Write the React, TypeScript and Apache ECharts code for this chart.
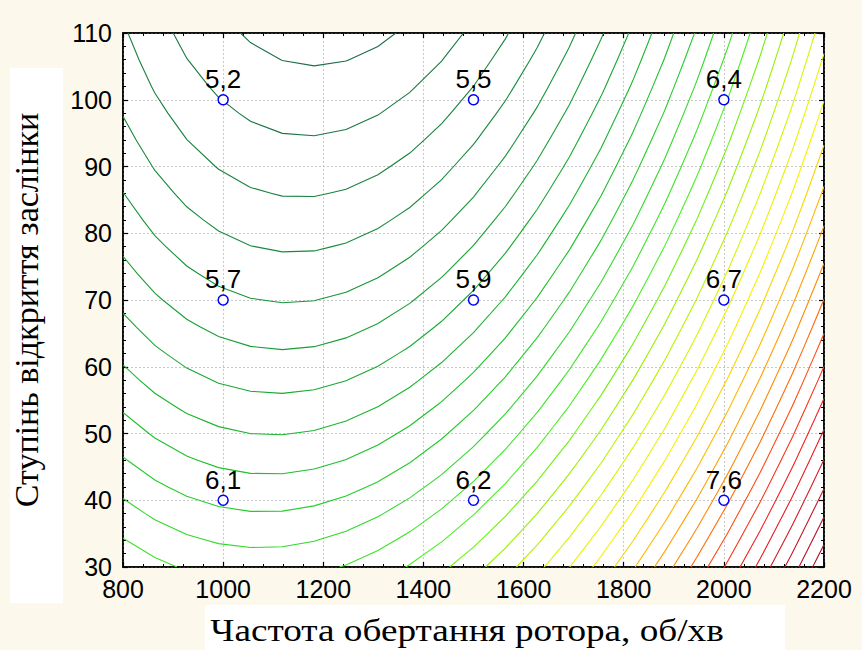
import React, { useEffect, useRef } from "react";
import * as echarts from "echarts";

// ---- data ----
const rpmLevels = [1000, 1500, 2000]; // Частота обертання ротора, об/хв
const openingLevels = [40, 70, 100]; // Ступінь відкриття заслінки
// measured response, rows follow openingLevels, columns follow rpmLevels
const responseRows = [
  [6.1, 6.2, 7.6],
  [5.7, 5.9, 6.7],
  [5.2, 5.5, 6.4],
];
const contourLevels = [
  5.2, 5.3, 5.4, 5.5, 5.6, 5.7, 5.8, 5.9, 6.0, 6.1, 6.2, 6.3, 6.4, 6.5, 6.6, 6.7,
  6.8, 6.9, 7.0, 7.1, 7.2, 7.3, 7.4, 7.5, 7.6, 7.7, 7.8, 7.9, 8.0, 8.1, 8.2, 8.3,
];
const xTicks = { min: 800, max: 2200, step: 200 };
const yTicks = { min: 30, max: 110, step: 10 };

// ---- styling ----
const colorStops: [number, string][] = [
  [5.2, "#1a6e46"],
  [5.5, "#178a3c"],
  [5.8, "#18a832"],
  [6.0, "#1cc02a"],
  [6.2, "#30d82a"],
  [6.4, "#48f020"],
  [6.6, "#98f000"],
  [6.8, "#d8f400"],
  [7.0, "#f8f000"],
  [7.2, "#ffb800"],
  [7.4, "#ff8a00"],
  [7.6, "#ff4a10"],
  [7.8, "#f42020"],
  [8.3, "#a8102a"],
];

function hexToRgb(h: string) {
  const n = parseInt(h.slice(1), 16);
  return [(n >> 16) & 255, (n >> 8) & 255, n & 255];
}
function levelColor(v: number) {
  if (v <= colorStops[0][0]) return colorStops[0][1];
  for (let i = 1; i < colorStops.length; i++) {
    if (v <= colorStops[i][0]) {
      const [a, ca] = colorStops[i - 1];
      const [b, cb] = colorStops[i];
      const t = (v - a) / (b - a);
      const A = hexToRgb(ca), B = hexToRgb(cb);
      const c = A.map((x, k) => Math.round(x + (B[k] - x) * t));
      return `rgb(${c[0]},${c[1]},${c[2]})`;
    }
  }
  return colorStops[colorStops.length - 1][1];
}

// ---- quadratic response surface fitted (least squares) to the measured points ----
const points: [number, number, number][] = [];
openingLevels.forEach((y, r) => rpmLevels.forEach((x, c) => points.push([x, y, responseRows[r][c]])));
const xc = (Math.min(...rpmLevels) + Math.max(...rpmLevels)) / 2;
const xs = (Math.max(...rpmLevels) - Math.min(...rpmLevels)) / 2;
const yc = (Math.min(...openingLevels) + Math.max(...openingLevels)) / 2;
const ys = (Math.max(...openingLevels) - Math.min(...openingLevels)) / 2;
const basis = (x: number, y: number) => {
  const u = (x - xc) / xs, v = (y - yc) / ys;
  return [1, u, v, u * u, v * v, u * v];
};
function fitSurface() {
  const n = 6;
  const M = Array.from({ length: n }, () => new Array(n + 1).fill(0));
  points.forEach(([x, y, z]) => {
    const b = basis(x, y);
    for (let i = 0; i < n; i++) {
      for (let j = 0; j < n; j++) M[i][j] += b[i] * b[j];
      M[i][n] += b[i] * z;
    }
  });
  for (let i = 0; i < n; i++) {
    let p = i;
    for (let k = i + 1; k < n; k++) if (Math.abs(M[k][i]) > Math.abs(M[p][i])) p = k;
    [M[i], M[p]] = [M[p], M[i]];
    for (let k = 0; k < n; k++) {
      if (k === i) continue;
      const f = M[k][i] / M[i][i];
      for (let j = i; j <= n; j++) M[k][j] -= f * M[i][j];
    }
  }
  return M.map((row, i) => row[n] / row[i]);
}
const coef = fitSurface();
const surface = (x: number, y: number) => basis(x, y).reduce((s, b, i) => s + b * coef[i], 0);

// ---- marching squares ----
const NX = 22, NY = 20;
function contourLines(level: number): [number, number][][] {
  const gx = (i: number) => xTicks.min + ((xTicks.max - xTicks.min) * i) / NX;
  const gy = (j: number) => yTicks.min + ((yTicks.max - yTicks.min) * j) / NY;
  const val: number[][] = [];
  for (let i = 0; i <= NX; i++) {
    val.push([]);
    for (let j = 0; j <= NY; j++) val[i].push(surface(gx(i), gy(j)));
  }
  const pts: Record<string, [number, number]> = {};
  const segs: [string, string][] = [];
  const edge = (key: string, i1: number, j1: number, i2: number, j2: number, out: string[]) => {
    const v1 = val[i1][j1], v2 = val[i2][j2];
    if ((v1 < level) !== (v2 < level)) {
      const t = (level - v1) / (v2 - v1);
      pts[key] = [gx(i1) + t * (gx(i2) - gx(i1)), gy(j1) + t * (gy(j2) - gy(j1))];
      out.push(key);
    }
  };
  for (let i = 0; i < NX; i++) {
    for (let j = 0; j < NY; j++) {
      const c: string[] = [];
      edge(`h${i}_${j}`, i, j, i + 1, j, c);
      edge(`v${i + 1}_${j}`, i + 1, j, i + 1, j + 1, c);
      edge(`h${i}_${j + 1}`, i, j + 1, i + 1, j + 1, c);
      edge(`v${i}_${j}`, i, j, i, j + 1, c);
      if (c.length === 2) segs.push([c[0], c[1]]);
      else if (c.length === 4) {
        segs.push([c[0], c[1]]);
        segs.push([c[2], c[3]]);
      }
    }
  }
  const adj: Record<string, number[]> = {};
  segs.forEach((s, k) => s.forEach((e) => (adj[e] = adj[e] || []).push(k)));
  const used = new Array(segs.length).fill(false);
  const lines: [number, number][][] = [];
  const walk = (startKey: string, startSeg: number) => {
    let k = startKey, s = startSeg;
    const line: [number, number][] = [pts[k]];
    while (s >= 0) {
      used[s] = true;
      const other = segs[s][0] === k ? segs[s][1] : segs[s][0];
      line.push(pts[other]);
      k = other;
      s = (adj[k] || []).find((q) => !used[q]) ?? -1;
    }
    lines.push(line);
  };
  Object.keys(adj).forEach((key) => {
    if (adj[key].length === 1 && !used[adj[key][0]]) walk(key, adj[key][0]);
  });
  segs.forEach((s, k) => {
    if (!used[k]) walk(s[0], k);
  });
  return lines;
}
const contourPaths = contourLevels.map((lv) => contourLines(lv));

const SANS = '"Liberation Sans", Arial, sans-serif';
const SERIF = '"Liberation Serif", "Times New Roman", serif';

export default function App() {
  const ref = useRef<HTMLDivElement>(null);
  useEffect(() => {
    document.body.style.margin = "0";
    const chart = echarts.init(ref.current!, undefined, { renderer: "svg" });
    const axisCommon = {
      type: "value" as const,
      axisLine: { show: true, onZero: false, lineStyle: { color: "#000", width: 1.5 } },
      axisTick: { show: true, inside: true, length: 5, lineStyle: { color: "#000", width: 1.2 } },
      minorTick: { show: true, splitNumber: 5, length: 3, lineStyle: { color: "#000", width: 1 } },
    };
    chart.setOption({
      animation: false,
      backgroundColor: "#fdf8ec",
      grid: {
        left: 123,
        right: 38,
        top: 33,
        bottom: 83,
        show: true,
        backgroundColor: "#ffffff",
        borderColor: "#000",
        borderWidth: 1.5,
      },
      xAxis: [
        {
          ...axisCommon,
          min: xTicks.min,
          max: xTicks.max,
          interval: xTicks.step,
          position: "bottom",
          axisLabel: {
            color: "#000",
            fontSize: 25,
            fontFamily: SANS,
            margin: 9,
            formatter: (v: number) => String(v),
          },
          splitLine: { show: true, lineStyle: { color: "#c8c8c8", type: [2, 2], width: 1 } },
        },
        {
          ...axisCommon,
          min: xTicks.min,
          max: xTicks.max,
          interval: xTicks.step,
          position: "top",
          axisLabel: { show: false },
          splitLine: { show: false },
        },
      ],
      yAxis: [
        {
          ...axisCommon,
          min: yTicks.min,
          max: yTicks.max,
          interval: yTicks.step,
          position: "left",
          axisLabel: {
            color: "#000",
            fontSize: 25,
            fontFamily: SANS,
            margin: 11,
            formatter: (v: number) => String(v),
          },
          splitLine: { show: true, lineStyle: { color: "#c8c8c8", type: [2, 2], width: 1 } },
        },
        {
          ...axisCommon,
          min: yTicks.min,
          max: yTicks.max,
          interval: yTicks.step,
          position: "right",
          axisLabel: { show: false },
          splitLine: { show: false },
        },
      ],
      graphic: [
        { type: "rect", shape: { x: 10, y: 68, width: 53, height: 535 }, style: { fill: "#ffffff" }, silent: true },
        { type: "rect", shape: { x: 205, y: 605, width: 580, height: 45 }, style: { fill: "#ffffff" }, silent: true },
        {
          type: "text",
          x: 26,
          y: 310,
          rotation: Math.PI / 2,
          style: {
            text: "Ступінь відкриття заслінки",
            fontSize: 34,
            fontFamily: SERIF,
            fill: "#000",
            align: "center",
            verticalAlign: "middle",
            textAlign: "center",
            textVerticalAlign: "middle",
          },
          silent: true,
        },
        {
          type: "text",
          x: 467,
          y: 630,
          scaleX: 1.2,
          style: {
            text: "Частота обертання ротора, об/хв",
            fontSize: 31,
            fontFamily: SERIF,
            fill: "#000",
            align: "center",
            verticalAlign: "middle",
            textAlign: "center",
            textVerticalAlign: "middle",
          },
          silent: true,
        },
      ],
      series: [
        {
          type: "custom",
          coordinateSystem: "cartesian2d",
          clip: true,
          silent: true,
          data: contourLevels,
          renderItem: (params: any, api: any) => {
            const idx = params.dataIndex;
            const color = levelColor(contourLevels[idx]);
            return {
              type: "group",
              children: contourPaths[idx].map((line) => ({
                type: "polyline",
                shape: { points: line.map((p) => api.coord(p)) },
                style: { stroke: color, fill: null, lineWidth: 1.1 },
              })),
            };
          },
          z: 2,
        },
        {
          type: "scatter",
          data: points.map((p) => p),
          symbol: "circle",
          symbolSize: 10,
          itemStyle: { color: "#ffffff", borderColor: "#0000ff", borderWidth: 1.5, opacity: 1 },
          label: {
            show: true,
            position: "top",
            distance: 2,
            color: "#000",
            fontSize: 26,
            fontFamily: SANS,
            formatter: (p: any) => p.value[2].toFixed(1).replace(".", ","),
          },
          z: 5,
        },
      ],
    });
    return () => chart.dispose();
  }, []);
  return <div ref={ref} style={{ width: 862, height: 650 }} />;
}
